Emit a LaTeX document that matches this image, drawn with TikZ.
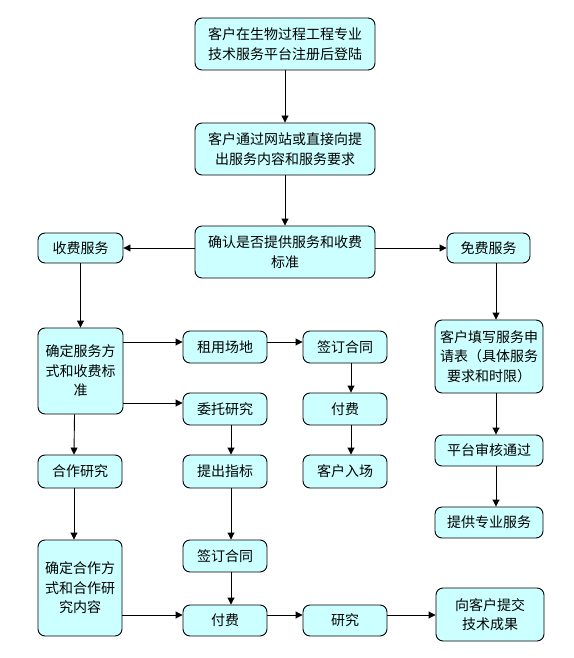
\documentclass[tikz,border=0pt]{standalone}
\usepackage{fontspec}
\newfontfamily\cjk{Noto Sans CJK SC}
\usetikzlibrary{arrows.meta,calc}
\definecolor{boxfill}{HTML}{CCFFFF}
\tikzset{
  box/.style={draw=black, line width=0.9pt, fill=boxfill, rounded corners=7pt,
    align=center, inner sep=0pt, font=\cjk\fontsize{14}{19.5}\selectfont},
  arr/.style={line width=0.9pt, -{Triangle[width=7pt,length=7pt]}}
}
\begin{document}
\begin{tikzpicture}[x=1pt,y=-1pt]
\useasboundingbox (0,0) rectangle (573,658);
% top column
\node[box, minimum width=180, minimum height=52] (n1) at (285,44) {客户在生物过程工程专业\\技术服务平台注册后登陆};
\node[box, minimum width=180, minimum height=52] (n2) at (285,149) {客户通过网站或直接向提\\出服务内容和服务要求};
\node[box, minimum width=180, minimum height=52] (n3) at (285,252) {确认是否提供服务和收费\\标准};
% left
\node[box, minimum width=85, minimum height=30] (fee) at (80.5,248) {收费服务};
\node[box, minimum width=85, minimum height=86] (det1) at (80.5,371) {确定服务方\\式和收费标\\准};
\node[box, minimum width=84, minimum height=33] (coop) at (80,471.5) {合作研究};
\node[box, minimum width=84, minimum height=96] (det2) at (80,588) {确定合作方\\式和合作研\\究内容};
% middle
\node[box, minimum width=84, minimum height=32] (rent) at (225,347) {租用场地};
\node[box, minimum width=84, minimum height=32] (entrust) at (225,409) {委托研究};
\node[box, minimum width=84, minimum height=33] (target) at (225,471.5) {提出指标};
\node[box, minimum width=84, minimum height=32] (sign2) at (225,556) {签订合同};
\node[box, minimum width=84, minimum height=31] (pay2) at (225,620.5) {付费};
% middle right
\node[box, minimum width=84, minimum height=32] (sign1) at (345,347) {签订合同};
\node[box, minimum width=84, minimum height=32] (pay1) at (345,409) {付费};
\node[box, minimum width=84, minimum height=33] (enter) at (345,471.5) {客户入场};
\node[box, minimum width=84, minimum height=31] (research) at (345,620.5) {研究};
% right
\node[box, minimum width=83, minimum height=30] (free) at (488.5,248) {免费服务};
\node[box, minimum width=108, minimum height=73] (apply) at (489,356.5) {客户填写服务申\\请表（具体服务\\要求和时限）};
\node[box, minimum width=108, minimum height=31] (audit) at (489,450.5) {平台审核通过};
\node[box, minimum width=108, minimum height=31] (provide) at (489,522.5) {提供专业服务};
\node[box, minimum width=108, minimum height=53] (deliver) at (490,614.5) {向客户提交\\技术成果};
% arrows
\draw[arr] (n1.south) -- (n2.north);
\draw[arr] (n2.south) -- (n3.north);
\draw[arr] ($(n3.west)+(0,-4)$) -- (fee.east);
\draw[arr] ($(n3.east)+(0,-4)$) -- (free.west);
\draw[arr] (fee.south) -- (det1.north);
\draw[arr] ($(det1.east)+(0,-29)$) -- ($(rent.west)+(0,-5)$);
\draw[arr] ($(det1.east)+(0,32)$) -- ($(entrust.west)+(0,-6)$);
\draw[arr] ($(rent.east)+(0,-5)$) -- ($(sign1.west)+(0,-5)$);
\draw[arr] ($(det1.south)+(-6,0)$) -- ($(coop.north)+(-6,0)$);
\draw[arr] ($(coop.south)+(-6,0)$) -- ($(det2.north)+(-6,0)$);
\draw[arr] ($(entrust.south)+(6,0)$) -- ($(target.north)+(6,0)$);
\draw[arr] ($(target.south)+(6,0)$) -- ($(sign2.north)+(6,0)$);
\draw[arr] ($(sign2.south)+(6,0)$) -- ($(pay2.north)+(6,0)$);
\draw[arr] ($(sign1.south)+(6,0)$) -- ($(pay1.north)+(6,0)$);
\draw[arr] ($(pay1.south)+(6,0)$) -- ($(enter.north)+(6,0)$);
\draw[arr] ($(free.south)+(7.5,0)$) -- ($(apply.north)+(7,0)$);
\draw[arr] ($(apply.south)+(7,0)$) -- ($(audit.north)+(7,0)$);
\draw[arr] ($(audit.south)+(7,0)$) -- ($(provide.north)+(7,0)$);
\draw[arr] ($(det2.east)+(0,27)$) -- ($(pay2.west)+(0,-5.5)$);
\draw[arr] ($(pay2.east)+(0,-5.5)$) -- ($(research.west)+(0,-5.5)$);
\draw[arr] ($(research.east)+(0,-5.5)$) -- ($(deliver.west)+(0,0.5)$);
\end{tikzpicture}
\end{document}
